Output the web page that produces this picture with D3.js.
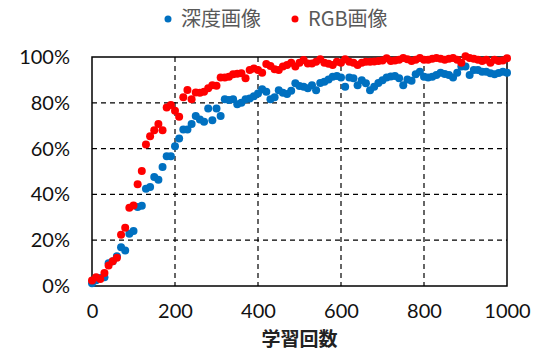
<!DOCTYPE html>
<html>
<head>
<meta charset="utf-8">
<script src="https://cdn.jsdelivr.net/npm/d3@7"></script>
<style>
  html, body { margin: 0; padding: 0; background: #fff; }
  svg { display: block; }
</style>
</head>
<body>
<svg id="chart" width="537" height="352"></svg>
<script>
// 学習回数 (0, 10, 20, ... 1000)
var epochs = d3.range(0, 1001, 10)

// 深度画像 accuracy (%)
var depthAcc = [
    1.2, 2.5, 3.5, 3.8, 9.9, 10.8, 13.0, 16.9, 15.5, 22.8,
    24.0, 34.5, 35.0, 42.5, 43.2, 47.6, 46.4, 52.0, 56.7, 56.7,
    61.0, 64.4, 68.3, 68.3, 70.7, 74.2, 72.7, 71.7, 77.5, 72.4,
    77.5, 74.2, 81.5, 81.2, 81.5, 79.4, 80.0, 81.5, 81.9, 82.9,
    84.1, 85.9, 84.8, 81.5, 82.4, 85.5, 84.4, 83.8, 85.3, 88.5,
    87.3, 87.0, 86.3, 87.7, 85.5, 88.7, 89.2, 90.2, 91.4, 91.7,
    91.0, 87.0, 91.1, 90.7, 87.7, 89.9, 88.5, 85.5, 87.0, 88.7,
    89.9, 91.1, 91.5, 91.7, 90.7, 87.7, 90.2, 89.6, 92.5, 93.6,
    91.4, 91.1, 91.4, 92.1, 93.1, 92.6, 92.1, 91.1, 93.1, 95.8,
    95.8, 92.1, 94.3, 94.3, 93.6, 93.6, 92.9, 92.5, 93.0, 93.6,
    93.1
]

// RGB画像 accuracy (%)
var rgbAcc = [
    2.4, 3.8, 3.1, 5.7, 8.9, 10.8, 12.3, 22.4, 25.4, 34.2,
    35.2, 44.4, 50.2, 61.8, 65.4, 68.0, 70.7, 68.0, 78.0, 79.0,
    76.5, 73.9, 82.4, 85.6, 81.6, 84.5, 84.4, 84.8, 86.3, 87.7,
    87.4, 91.1, 91.1, 91.4, 92.5, 92.7, 92.9, 90.7, 94.3, 95.0,
    94.3, 93.1, 96.9, 96.1, 94.6, 94.3, 95.8, 96.5, 97.5, 95.8,
    97.5, 98.7, 97.2, 97.2, 97.9, 99.0, 97.5, 97.0, 96.5, 97.9,
    97.5, 99.0, 97.9, 97.5, 96.5, 97.5, 97.9, 97.9, 98.0, 98.2,
    98.5, 99.4, 98.2, 98.5, 98.8, 99.6, 99.0, 98.2, 98.8, 99.6,
    98.8, 98.8, 99.2, 99.6, 99.2, 98.8, 99.2, 99.6, 98.8, 97.5,
    100.3, 99.6, 99.2, 98.8, 98.2, 98.8, 97.5, 98.8, 98.3, 98.5,
    99.5
]

var xTicks = [0, 200, 400, 600, 800, 1000]
var yTicks = [0, 20, 40, 60, 80, 100]

var seriesNames = ["深度画像", "RGB画像"]
var seriesColors = ["#0070C0", "#FF0000"]

var numFont = "Lato, 'Open Sans', sans-serif"
var cjkFont = "'Noto Sans CJK JP', sans-serif"

var svg = d3.select("#chart")
var plot = {left: 92, right: 507, top: 57, bottom: 286}

var x = d3.scaleLinear().domain([0, 1000]).range([plot.left, plot.right])
var y = d3.scaleLinear().domain([0, 100]).range([plot.bottom, plot.top])

// 補助線 (dashed grid)
svg.append("g")
    .selectAll("line")
    .data(yTicks.filter(d => d > 0 && d < 100))
    .join("line")
    .attr("x1", plot.left).attr("x2", plot.right)
    .attr("y1", d => y(d)).attr("y2", d => y(d))
    .attr("stroke", "#000").attr("stroke-width", 1.2)
    .attr("stroke-dasharray", "5,4")

svg.append("g")
    .selectAll("line")
    .data(xTicks.filter(d => d > 0 && d < 1000))
    .join("line")
    .attr("x1", d => x(d)).attr("x2", d => x(d))
    .attr("y1", plot.top).attr("y2", plot.bottom)
    .attr("stroke", "#000").attr("stroke-width", 1.2)
    .attr("stroke-dasharray", "5,4")

// 枠
svg.append("rect")
    .attr("x", plot.left).attr("y", plot.top)
    .attr("width", plot.right - plot.left)
    .attr("height", plot.bottom - plot.top)
    .attr("fill", "none").attr("stroke", "#000").attr("stroke-width", 1.5)

// 軸ラベル
var yAxis = d3.axisLeft(y).tickValues(yTicks).tickSize(0).tickPadding(22)
    .tickFormat(d => d + "%")
svg.append("g")
    .attr("transform", "translate(" + plot.left + ",0)")
    .call(yAxis)
    .call(g => g.select(".domain").remove())
    .selectAll("text")
    .attr("font-family", numFont).attr("font-size", 20)
    .attr("fill", "#111")

var xAxis = d3.axisBottom(x).tickValues(xTicks).tickSize(0).tickPadding(18)
    .tickFormat(d3.format("d"))
svg.append("g")
    .attr("transform", "translate(0," + plot.bottom + ")")
    .call(xAxis)
    .call(g => g.select(".domain").remove())
    .selectAll("text")
    .attr("font-family", numFont).attr("font-size", 20)
    .attr("fill", "#111")

svg.append("text")
    .attr("x", (plot.left + plot.right) / 2)
    .attr("y", 346)
    .attr("text-anchor", "middle")
    .attr("font-family", cjkFont).attr("font-size", 19)
    .attr("font-weight", "bold")
    .attr("fill", "#222")
    .text("学習回数")

// データ点
var series = [depthAcc, rgbAcc]
series.forEach(function (vals, i) {
    svg.append("g")
        .selectAll("circle")
        .data(vals)
        .join("circle")
        .attr("cx", (d, j) => x(epochs[j]))
        .attr("cy", d => y(d))
        .attr("r", 4)
        .attr("fill", seriesColors[i])
})

// 凡例
var legendX = [168, 295]
seriesNames.forEach(function (name, i) {
    var g = svg.append("g").attr("transform", "translate(" + legendX[i] + ",19)")
    g.append("circle").attr("r", 3.5).attr("fill", seriesColors[i])
    g.append("text")
        .attr("x", 13).attr("y", 7)
        .attr("font-family", cjkFont).attr("font-size", 20)
        .attr("fill", "#595959")
        .text(name)
})
</script>
</body>
</html>
